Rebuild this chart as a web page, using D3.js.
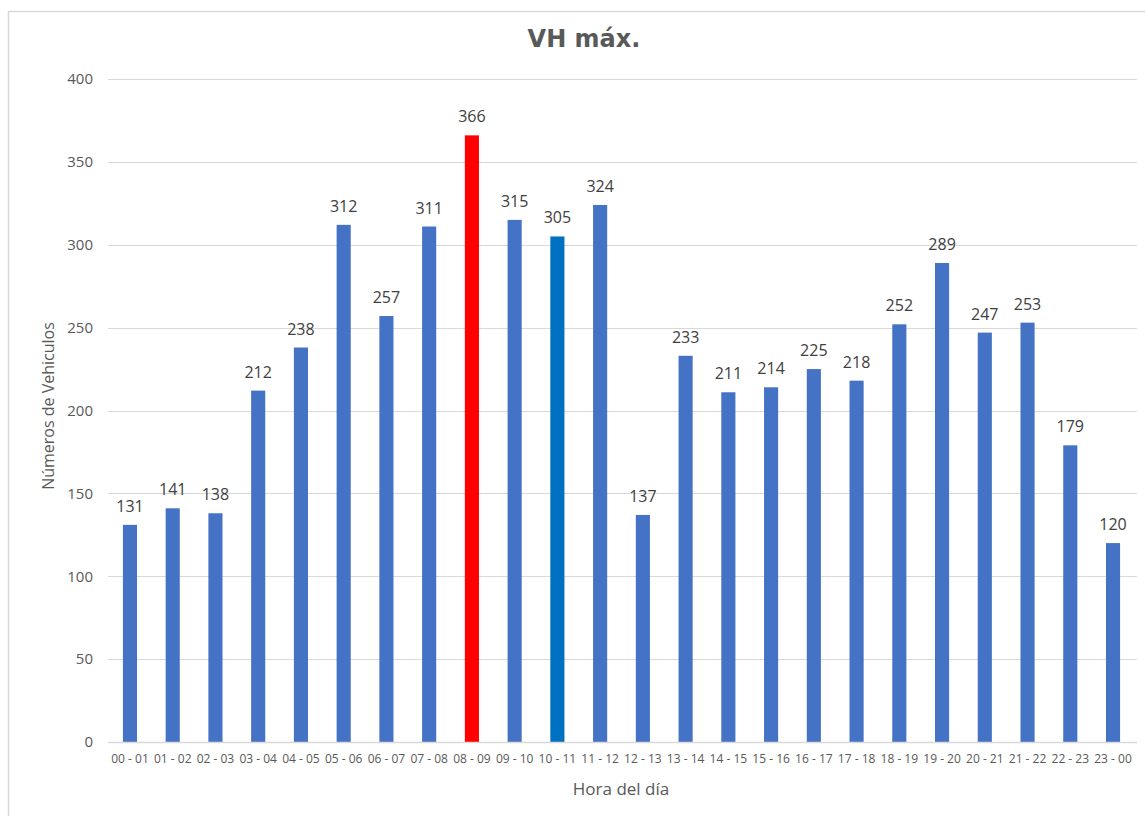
<!DOCTYPE html>
<html>
<head>
<meta charset="utf-8">
<script src="https://cdn.jsdelivr.net/npm/d3@7"></script>
<style>
  html, body { margin: 0; padding: 0; background: #fff; }
  svg { display: block; }
</style>
</head>
<body>
<svg id="chart" width="1145" height="816"></svg>
<script>
// Hourly time slots
const hours = ["00 - 01","01 - 02","02 - 03","03 - 04","04 - 05","05 - 06","06 - 07","07 - 08",
  "08 - 09","09 - 10","10 - 11","11 - 12","12 - 13","13 - 14","14 - 15","15 - 16",
  "16 - 17","17 - 18","18 - 19","19 - 20","20 - 21","21 - 22","22 - 23","23 - 00"];
// Peak vehicle count per hour
const vehicles = [131,141,138,212,238,312,257,311,366,315,305,324,137,233,211,214,225,218,252,289,247,253,179,120];
const yTicks = [0,50,100,150,200,250,300,350,400];
const highlight = { "08 - 09": "#FF0000", "10 - 11": "#0070C0" };
const baseColor = "#4472C4";

const svg = d3.select("#chart");
const margin = { left: 108.6, right: 1134.4, top: 79, bottom: 742 };
const font = "'Open Sans', 'Noto Sans', sans-serif";

// Chart area outline
svg.append("rect")
  .attr("x", 8.5).attr("y", 11.5)
  .attr("width", 1160).attr("height", 830)
  .attr("fill", "none").attr("stroke", "#d9d9d9").attr("stroke-width", 1.5);

const x = d3.scaleBand().domain(hours).range([margin.left, margin.right]).paddingInner(0.67).paddingOuter(0.335);
const y = d3.scaleLinear().domain([0, 400]).range([margin.bottom, margin.top]);

// Horizontal gridlines
svg.append("g").selectAll("line").data(yTicks.filter(d => d > 0)).join("line")
  .attr("x1", 108).attr("x2", 1137)
  .attr("y1", d => Math.round(y(d)) + 0.5).attr("y2", d => Math.round(y(d)) + 0.5)
  .attr("stroke", "#d9d9d9").attr("stroke-width", 1);

// Y axis labels
const yAxis = svg.append("g").attr("transform", "translate(93,0)")
  .call(d3.axisLeft(y).tickValues(yTicks).tickSize(0).tickPadding(0));
yAxis.select(".domain").remove();
yAxis.selectAll("text").attr("fill", "#595959")
  .style("font-family", font).style("font-size", "15px");

// Bars
svg.append("g").selectAll("rect").data(hours).join("rect")
  .attr("x", d => x(d))
  .attr("width", x.bandwidth())
  .attr("y", (d, i) => y(vehicles[i]))
  .attr("height", (d, i) => y(0) - y(vehicles[i]))
  .attr("fill", d => highlight[d] || baseColor);

// Value labels
svg.append("g").selectAll("text").data(hours).join("text")
  .attr("x", d => x(d) + x.bandwidth() / 2)
  .attr("y", (d, i) => y(vehicles[i]) - 13)
  .attr("text-anchor", "middle")
  .attr("fill", "#404040")
  .style("font-family", font).style("font-size", "16px")
  .text((d, i) => vehicles[i]);

// Baseline
svg.append("line")
  .attr("x1", 108).attr("x2", 1137)
  .attr("y1", y(0) + 0.5).attr("y2", y(0) + 0.5)
  .attr("stroke", "#d9d9d9").attr("stroke-width", 1.5);

// X axis labels
const xAxis = svg.append("g").attr("transform", `translate(0,${y(0) + 12})`)
  .call(d3.axisBottom(x).tickSize(0).tickPadding(0));
xAxis.select(".domain").remove();
xAxis.selectAll("text").attr("fill", "#595959").attr("dy", "0.71em")
  .style("font-family", font).style("font-size", "12px");

// Title
svg.append("text")
  .attr("x", 584).attr("y", 47)
  .attr("text-anchor", "middle")
  .attr("fill", "#595959")
  .style("font-family", "'DejaVu Sans', sans-serif").style("font-weight", "bold").style("font-size", "24px")
  .text("VH máx.");

// Axis titles
svg.append("text")
  .attr("x", 621).attr("y", 795)
  .attr("text-anchor", "middle")
  .attr("fill", "#595959")
  .style("font-family", font).style("font-size", "17px")
  .text("Hora del día");

svg.append("text")
  .attr("transform", "translate(54,406) rotate(-90)")
  .attr("text-anchor", "middle")
  .attr("fill", "#595959")
  .style("font-family", font).style("font-size", "16px")
  .text("Números de Vehiculos");
</script>
</body>
</html>
